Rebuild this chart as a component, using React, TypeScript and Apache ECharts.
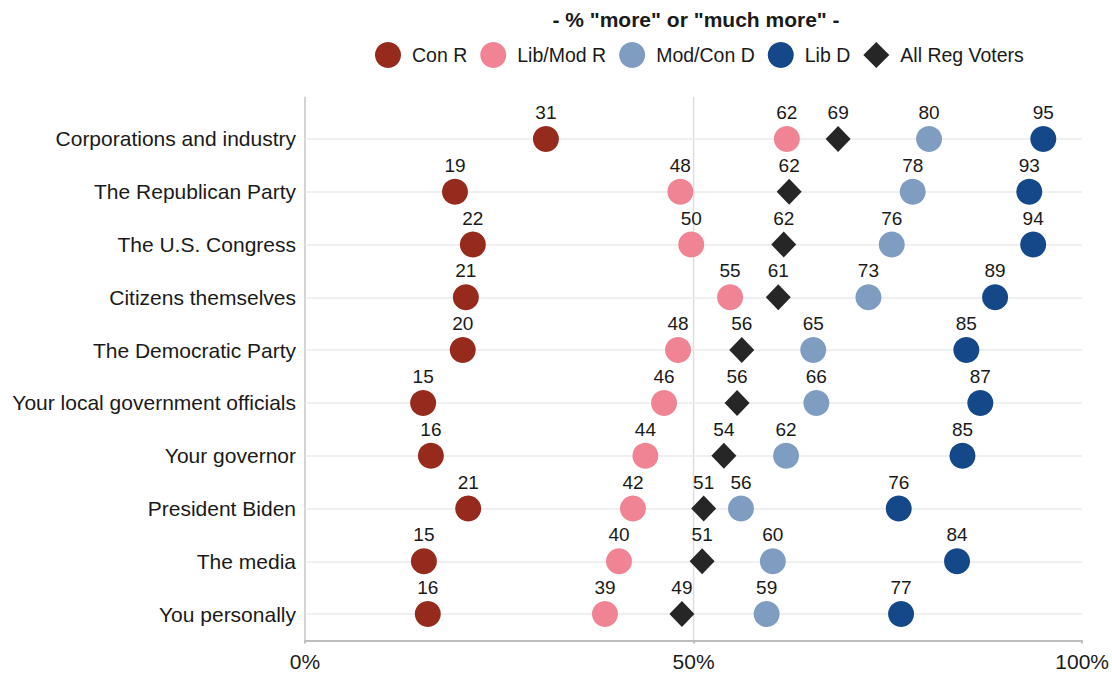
import React, { useEffect, useRef } from "react";
import * as echarts from "echarts";

const categories = [
  "Corporations and industry",
  "The Republican Party",
  "The U.S. Congress",
  "Citizens themselves",
  "The Democratic Party",
  "Your local government officials",
  "Your governor",
  "President Biden",
  "The media",
  "You personally",
];

const conR = [31.0, 19.3, 21.6, 20.7, 20.3, 15.2, 16.2, 21.0, 15.3, 15.8];
const libModR = [62.0, 48.3, 49.7, 54.7, 48.0, 46.2, 43.8, 42.2, 40.4, 38.6];
const modConD = [80.3, 78.2, 75.5, 72.5, 65.4, 65.8, 61.9, 56.1, 60.2, 59.4];
const libD = [95.0, 93.2, 93.7, 88.8, 85.1, 86.9, 84.6, 76.4, 83.9, 76.7];
const allReg = [68.6, 62.3, 61.6, 60.9, 56.2, 55.6, 53.9, 51.3, 51.1, 48.5];

const xTicks = [0, 50, 100];
const subtitle = '- % "more" or "much more" -';

const FONT = "'Liberation Sans', Arial, Helvetica, sans-serif";
const TEXT = "#1a1a1a";

const groups = [
  { name: "Con R", values: conR, color: "#952A1D", symbol: "circle" },
  { name: "Lib/Mod R", values: libModR, color: "#F08394", symbol: "circle" },
  { name: "Mod/Con D", values: modConD, color: "#7F9DC1", symbol: "circle" },
  { name: "Lib D", values: libD, color: "#144889", symbol: "circle" },
  { name: "All Reg Voters", values: allReg, color: "#262626", symbol: "diamond" },
];

export default function App() {
  const ref = useRef<HTMLDivElement>(null);

  useEffect(() => {
    document.body.style.margin = "0";
    if (!ref.current) return;
    const chart = echarts.init(ref.current, null, { renderer: "svg" });

    const dotSeries = groups.map((g) => ({
      name: g.name,
      type: "scatter",
      symbol: g.symbol,
      symbolSize: g.symbol === "diamond" ? [25, 26] : 26,
      z: 5,
      itemStyle: { color: g.color, opacity: 1 },
      label: {
        show: true,
        position: "top",
        distance: 4,
        fontSize: 19,
        fontFamily: FONT,
        color: TEXT,
        formatter: (p: any) => String(Math.round(p.value[0])),
      },
      emphasis: { disabled: true },
      data: g.values.map((v, i) => [v, categories[i]]),
    }));

    const option: any = {
      animation: false,
      textStyle: { fontFamily: FONT },
      grid: { left: 305, right: 29.5, top: 112.5, height: 528 },
      legend: {
        data: groups.map((g) => ({ name: g.name, icon: g.symbol })),
        left: 375,
        top: 42,
        padding: 0,
        itemWidth: 26,
        itemHeight: 26,
        itemGap: 13,
        selectedMode: false,
        textStyle: { fontSize: 19.5, color: TEXT, fontFamily: FONT, padding: [0, 0, 0, 6] },
      },
      xAxis: {
        type: "value",
        min: xTicks[0],
        max: xTicks[xTicks.length - 1],
        interval: 50,
        axisLine: { show: true, lineStyle: { color: "#bdbdbd", width: 2 } },
        axisTick: { show: true, length: 3, lineStyle: { color: "#bdbdbd", width: 2 } },
        splitLine: { show: false },
        axisLabel: {
          formatter: "{value}%",
          fontSize: 21,
          color: TEXT,
          fontFamily: FONT,
          margin: 10,
        },
      },
      yAxis: {
        type: "category",
        data: categories,
        inverse: true,
        axisLine: { show: false },
        axisTick: { show: false },
        splitLine: { show: false },
        axisLabel: { fontSize: 21, color: TEXT, fontFamily: FONT, margin: 9 },
      },
      series: [
        {
          name: "grid",
          type: "scatter",
          data: [],
          z: 1,
          silent: true,
          markLine: {
            silent: true,
            symbol: "none",
            label: { show: false },
            lineStyle: { color: "#ebebeb", width: 1.5, type: "solid" },
            emphasis: { disabled: true },
            data: categories.map((c) => ({ yAxis: c })),
          },
        },
        ...dotSeries,
      ],
    };

    chart.setOption(option);

    const x0 = chart.convertToPixel({ xAxisIndex: 0 } as any, xTicks[0]) as number;
    const x50 = chart.convertToPixel({ xAxisIndex: 0 } as any, xTicks[1]) as number;
    const y1 = chart.convertToPixel({ yAxisIndex: 0 } as any, categories[0]) as number;
    const y2 = chart.convertToPixel({ yAxisIndex: 0 } as any, categories[1]) as number;
    const yN = chart.convertToPixel({ yAxisIndex: 0 } as any, categories[categories.length - 1]) as number;
    const band = y2 - y1;
    const yTop = y1 - 0.8 * band;
    const yBottom = yN + 0.5 * band;

    chart.setOption({
      graphic: [
        {
          type: "line",
          z: 0,
          silent: true,
          shape: { x1: x50, y1: yTop, x2: x50, y2: yBottom },
          style: { stroke: "#dedede", lineWidth: 1.5 },
        },
        {
          type: "line",
          z: 2,
          silent: true,
          shape: { x1: x0, y1: yTop, x2: x0, y2: yBottom },
          style: { stroke: "#c4c4c4", lineWidth: 1.5 },
        },
        {
          type: "text",
          silent: true,
          x: 696,
          y: 19,
          style: {
            text: subtitle,
            fontSize: 21,
            fontWeight: "bold",
            fontFamily: FONT,
            fill: TEXT,
            align: "center",
            verticalAlign: "middle",
          },
        },
      ],
    });

    return () => chart.dispose();
  }, []);

  return <div ref={ref} style={{ width: 1112, height: 673 }} />;
}
